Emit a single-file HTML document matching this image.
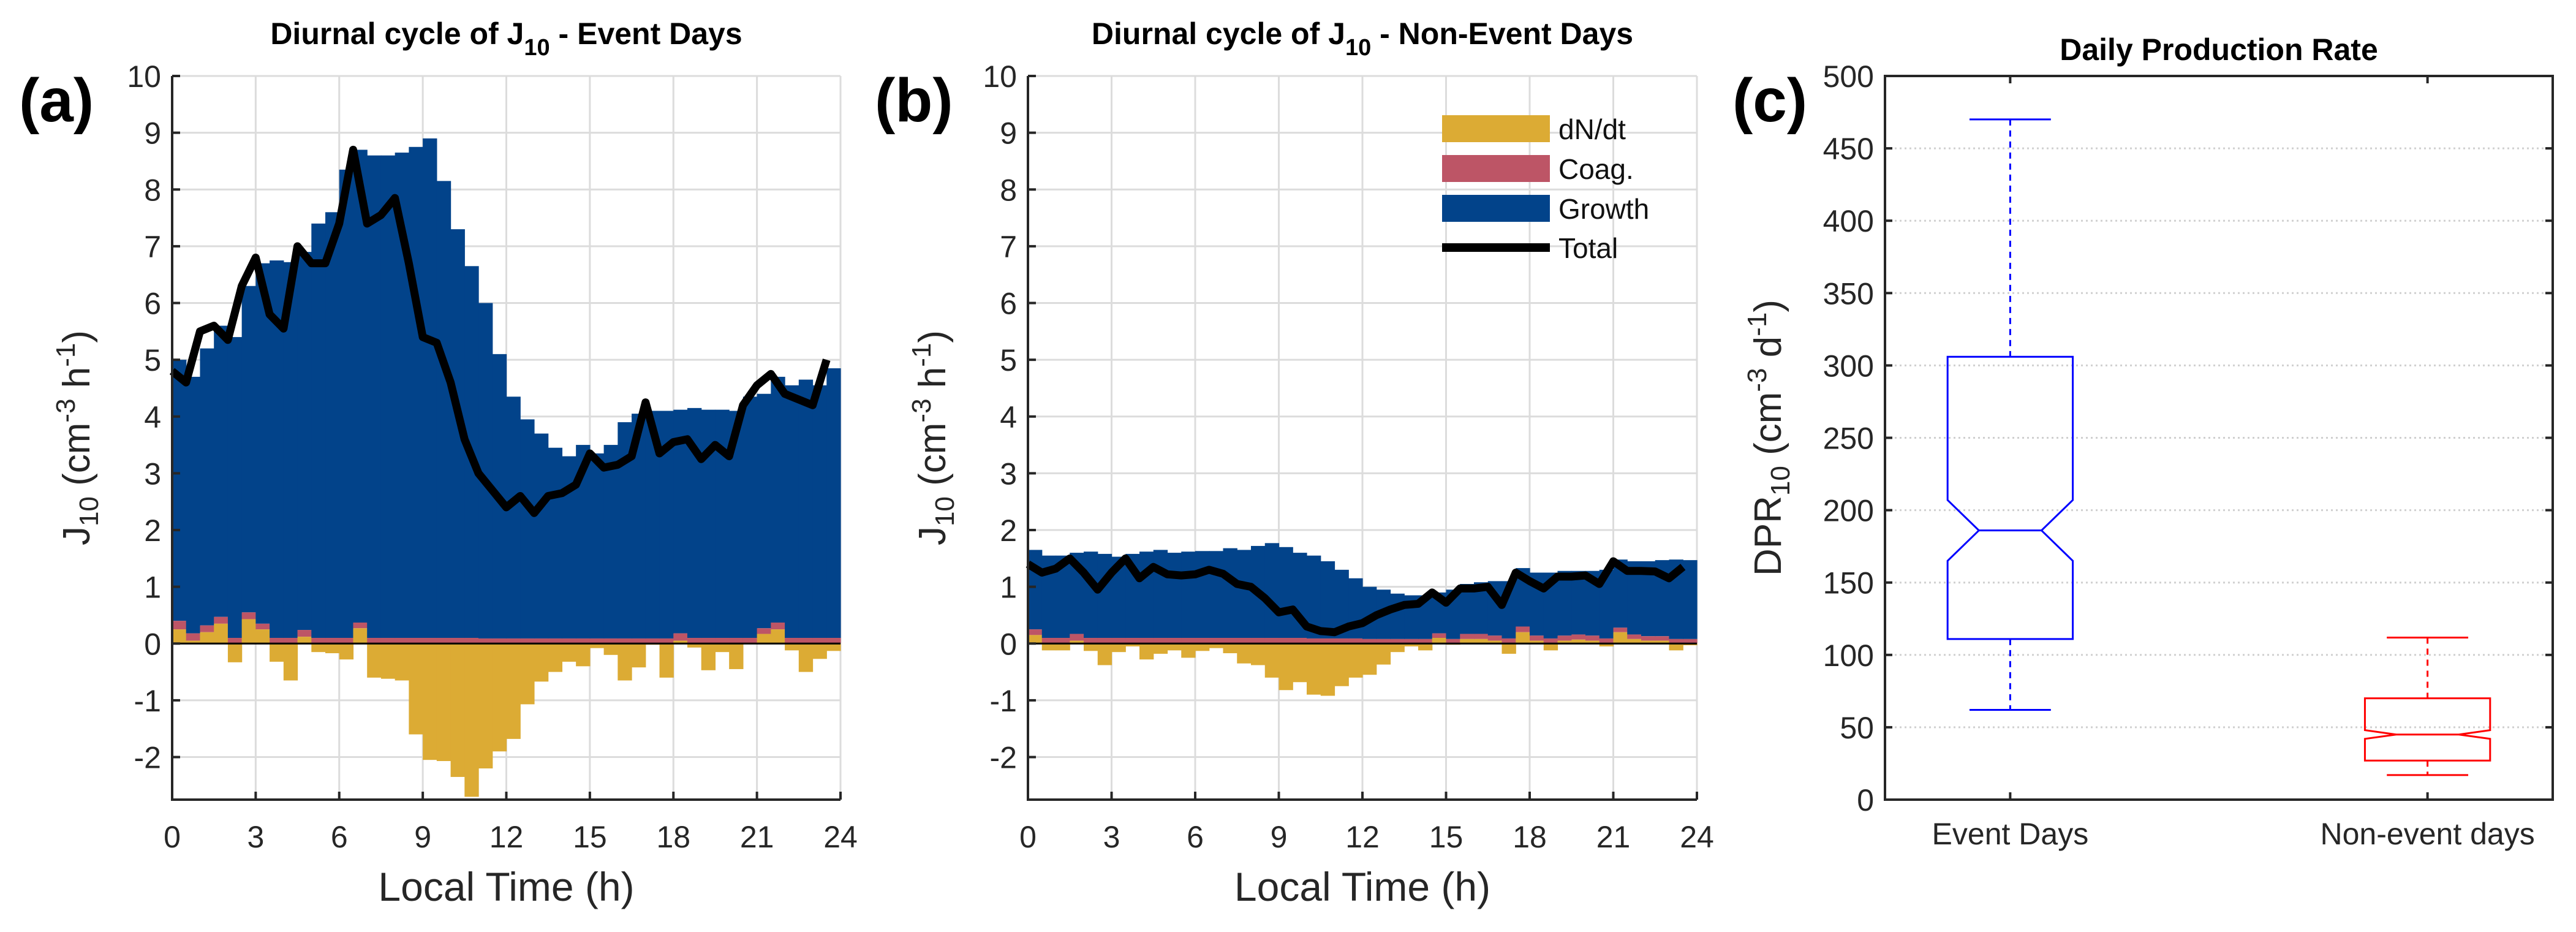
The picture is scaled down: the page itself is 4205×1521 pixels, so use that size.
<!DOCTYPE html>
<html><head><meta charset="utf-8">
<style>
html,body{margin:0;padding:0;background:#fff;}
svg{display:block;font-family:"Liberation Sans",Arial,sans-serif;}
</style></head>
<body>
<svg id="fig" width="4205" height="1521" viewBox="0 0 4205 1521" xmlns="http://www.w3.org/2000/svg"></svg>
<script>
// ---------- data ----------
const hours = [0,0.5,1,1.5,2,2.5,3,3.5,4,4.5,5,5.5,6,6.5,7,7.5,8,8.5,9,9.5,10,10.5,11,11.5,12,12.5,13,13.5,14,14.5,15,15.5,16,16.5,17,17.5,18,18.5,19,19.5,20,20.5,21,21.5,22,22.5,23,23.5];
const evTop = [5.0,4.7,5.2,5.6,5.4,6.3,6.7,6.75,6.72,6.9,7.4,7.6,8.35,8.7,8.6,8.6,8.65,8.75,8.9,8.15,7.3,6.65,6.0,5.1,4.35,3.95,3.7,3.45,3.3,3.5,3.35,3.5,3.9,4.05,4.1,4.1,4.12,4.15,4.12,4.12,4.1,4.35,4.4,4.7,4.55,4.65,4.55,4.85];
const evDndt = [0.25,0.05,0.2,0.35,-0.33,0.43,0.25,-0.32,-0.65,0.12,-0.15,-0.17,-0.28,0.27,-0.6,-0.62,-0.65,-1.6,-2.05,-2.07,-2.35,-2.7,-2.2,-1.9,-1.68,-1.07,-0.67,-0.5,-0.32,-0.4,-0.08,-0.2,-0.65,-0.42,-0.02,-0.6,0.05,-0.07,-0.47,-0.15,-0.45,0,0.17,0.25,-0.12,-0.5,-0.27,-0.13];
const evCoag = [0.15,0.13,0.12,0.12,0.1,0.12,0.1,0.1,0.1,0.12,0.1,0.1,0.1,0.1,0.1,0.1,0.1,0.1,0.1,0.1,0.1,0.1,0.09,0.09,0.09,0.09,0.09,0.09,0.09,0.09,0.09,0.09,0.09,0.09,0.09,0.09,0.13,0.1,0.1,0.1,0.1,0.1,0.1,0.12,0.1,0.1,0.1,0.1];
const evTotal = [4.8,4.6,5.5,5.6,5.35,6.3,6.8,5.8,5.55,7.0,6.7,6.7,7.4,8.7,7.4,7.55,7.85,6.7,5.4,5.3,4.6,3.6,3.0,2.7,2.4,2.6,2.3,2.6,2.65,2.8,3.35,3.1,3.15,3.3,4.25,3.35,3.55,3.6,3.25,3.5,3.3,4.2,4.55,4.75,4.4,4.3,4.2,5.0];

const neTop = [1.65,1.55,1.55,1.6,1.62,1.58,1.53,1.58,1.62,1.65,1.6,1.62,1.63,1.63,1.68,1.65,1.72,1.77,1.7,1.6,1.55,1.45,1.3,1.15,1.0,0.95,0.88,0.85,0.85,0.9,0.95,1.05,1.08,1.1,1.1,1.33,1.25,1.25,1.28,1.28,1.28,1.3,1.48,1.45,1.45,1.47,1.48,1.47];
const neDndt = [0.15,-0.12,-0.12,0.05,-0.13,-0.38,-0.15,-0.05,-0.28,-0.18,-0.12,-0.25,-0.13,-0.08,-0.17,-0.35,-0.38,-0.6,-0.82,-0.68,-0.9,-0.92,-0.75,-0.6,-0.55,-0.37,-0.15,-0.05,-0.12,0.1,-0.02,0.08,0.08,0.05,-0.18,0.2,0.05,-0.12,0.05,0.07,0.05,-0.05,0.2,0.08,0.05,0.05,-0.12,-0.03];
const neCoag = [0.1,0.1,0.1,0.12,0.1,0.1,0.1,0.1,0.1,0.1,0.1,0.1,0.1,0.1,0.1,0.1,0.1,0.1,0.1,0.1,0.09,0.09,0.09,0.09,0.08,0.08,0.08,0.08,0.08,0.08,0.08,0.09,0.09,0.09,0.09,0.1,0.09,0.09,0.09,0.09,0.09,0.09,0.08,0.08,0.08,0.08,0.08,0.08];
const neTotal = [1.4,1.25,1.32,1.5,1.25,0.95,1.25,1.5,1.15,1.35,1.22,1.2,1.22,1.3,1.23,1.05,1.0,0.8,0.55,0.6,0.3,0.22,0.2,0.3,0.36,0.5,0.6,0.68,0.7,0.9,0.72,0.97,0.97,1.0,0.68,1.25,1.1,0.97,1.18,1.18,1.2,1.05,1.45,1.28,1.28,1.27,1.15,1.35];

const xTicks = [0,3,6,9,12,15,18,21,24];
const yTicks = [-2,-1,0,1,2,3,4,5,6,7,8,9,10];

const boxCats = ["Event Days","Non-event days"];
const boxMax = [470,112];
const boxQ3 = [306,70];
const boxNotchHi = [207,48];
const boxMed = [186,45];
const boxNotchLo = [165,42];
const boxQ1 = [111,27];
const boxMin = [62,17];
const boxColors = ["#0000ff","#ff0000"];
const cTicks = [0,50,100,150,200,250,300,350,400,450,500];

// ---------- helpers ----------
const NS="http://www.w3.org/2000/svg";
const svg=document.getElementById('fig');
function mk(tag,attrs,parent){const e=document.createElementNS(NS,tag);for(const k in attrs)e.setAttribute(k,attrs[k]);(parent||svg).appendChild(e);return e;}
const BLUE="#02438a",YEL="#dcab34",PINK="#bd5566",GRID="#dcdcdc",AX="#262626";

function diurnal(px0,px1,top,dndt,coag,total,name,titleMain,titleRest,letter){
  const py0=124,py1=1305,ymin=-2.75,ymax=10;
  const xs=h=>px0+(h/24)*(px1-px0);
  const ys=v=>py1-(v-ymin)/(ymax-ymin)*(py1-py0);
  const g=mk('g',{});
  
  
  // grid
  xTicks.forEach(t=>{const l=mk('line',{x1:xs(t),x2:xs(t),y1:py0,y2:py1,stroke:GRID,'stroke-width':3},g);
    });
  yTicks.forEach(t=>{const l=mk('line',{x1:px0,x2:px1,y1:ys(t),y2:ys(t),stroke:GRID,'stroke-width':3},g);
    });
  const bw=xs(0.5)-xs(0);
  hours.forEach((h,i)=>{
    const x=xs(h);
    const d=dndt[i],c=coag[i];
    const pos=Math.max(d,0);
    // growth (blue) from pos+coag to top
    const gb=pos+c;
    const r1=mk('rect',{x:x,y:ys(top[i]),width:bw+0.6,height:Math.max(0,ys(gb)-ys(top[i])),fill:BLUE},g);
    
    const r2=mk('rect',{x:x,y:ys(gb),width:bw+0.6,height:ys(pos)-ys(gb),fill:PINK},g);
    
    const r3=mk('rect',{x:x,y:Math.min(ys(d),ys(0)),width:bw+0.6,height:Math.abs(ys(d)-ys(0)),fill:YEL},g);
    
  });
  const zl=mk('line',{x1:px0,x2:px1,y1:ys(0),y2:ys(0),stroke:'#000','stroke-width':3},g);
  
  const pts=hours.map((h,i)=>xs(h)+','+ys(total[i])).join(' ');
  const pl=mk('polyline',{points:pts,fill:'none',stroke:'#000','stroke-width':13,'stroke-linejoin':'round'},g);
  
  // axes
  const ax=mk('path',{d:`M${px0} ${py0} V${py1} H${px1}`,fill:'none',stroke:AX,'stroke-width':4},g);
  
  xTicks.forEach(t=>{
    mk('line',{x1:xs(t),x2:xs(t),y1:py1,y2:py1-13,stroke:AX,'stroke-width':4},g);
    const tx=mk('text',{x:xs(t),y:1383,'font-size':50,'text-anchor':'middle',fill:AX},g);tx.textContent=t;
    
  });
  yTicks.forEach(t=>{
    mk('line',{x1:px0,x2:px0+13,y1:ys(t),y2:ys(t),stroke:AX,'stroke-width':4},g);
    const tx=mk('text',{x:px0-18,y:ys(t)+18,'font-size':50,'text-anchor':'end',fill:AX},g);tx.textContent=t;
    
  });
  const xl=mk('text',{x:(px0+px1)/2,y:1470,'font-size':66,'text-anchor':'middle',fill:AX},g);xl.textContent='Local Time (h)';
  
  const yl=mk('text',{x:0,y:0,'font-size':62,'text-anchor':'middle',fill:AX,transform:`translate(${px0-135},${(py0+py1)/2}) rotate(-90)`},g);
  yl.innerHTML='J<tspan font-size="44" dy="14">10</tspan><tspan dy="-14"> (cm</tspan><tspan font-size="44" dy="-24">-3</tspan><tspan dy="24"> h</tspan><tspan font-size="44" dy="-24">-1</tspan><tspan dy="24">)</tspan>';
  
  const tt=mk('text',{x:(px0+px1)/2,y:72,'font-size':50,'font-weight':'bold','text-anchor':'middle',fill:'#000'},g);
  tt.innerHTML=`${titleMain}<tspan font-size="38" dy="18">10</tspan><tspan dy="-18">${titleRest}</tspan>`;
  
  const pl2=mk('text',{x:32,y:198,'font-size':100,'font-weight':'bold',fill:'#000'},g);
  pl2.setAttribute('x',px0-250);pl2.textContent=letter;
  
}
diurnal(281,1372,evTop,evDndt,evCoag,evTotal,'panel-a-event-days','Diurnal cycle of J',' - Event Days','(a)');
diurnal(1678,2770,neTop,neDndt,neCoag,neTotal,'panel-b-non-event-days','Diurnal cycle of J',' - Non-Event Days','(b)');

// legend
(function(){
  const g=mk('g',{});
  const items=[['dN/dt',YEL],['Coag.',PINK],['Growth',BLUE],['Total','#000']];
  const ysL=[210,275,340,404];
  items.forEach((it,i)=>{
    if(it[0]==='Total'){mk('rect',{x:2354,y:ysL[i]-7,width:176,height:14,fill:'#000'},g);}
    else mk('rect',{x:2354,y:ysL[i]-22,width:176,height:44,fill:it[1]},g);
    const t=mk('text',{x:2544,y:ysL[i]+17,'font-size':46,fill:'#111'},g);t.textContent=it[0];
    
  });
})();

// panel c
(function(){
  const px0=3077,px1=4167,py0=124,py1=1305;
  const xs=c=>px0+(c-0.7)/1.6*(px1-px0);
  const ys=v=>py1-v/500*(py1-py0);
  const g=mk('g',{});
  cTicks.forEach(t=>{
    if(t>0&&t<500){const l=mk('line',{x1:px0,x2:px1,y1:ys(t),y2:ys(t),stroke:'#d0d0d0','stroke-width':3,'stroke-dasharray':'3 5'},g);
      }
    mk('line',{x1:px0,x2:px0+12,y1:ys(t),y2:ys(t),stroke:AX,'stroke-width':4},g);
    mk('line',{x1:px1,x2:px1-12,y1:ys(t),y2:ys(t),stroke:AX,'stroke-width':4},g);
    const tx=mk('text',{x:px0-18,y:ys(t)+18,'font-size':50,'text-anchor':'end',fill:AX},g);tx.textContent=t;
    
  });
  const bw=0.15/1.6*(px1-px0);
  boxCats.forEach((c,i)=>{
    const cx=xs(i+1),col=boxColors[i];
    const bg=mk('g',{stroke:col,'stroke-width':3,fill:'none'},g);
    
    mk('line',{x1:cx,x2:cx,y1:ys(boxMax[i]),y2:ys(boxQ3[i]),'stroke-dasharray':'10 8'},bg);
    mk('line',{x1:cx,x2:cx,y1:ys(boxQ1[i]),y2:ys(boxMin[i]),'stroke-dasharray':'10 8'},bg);
    const cw=bw*0.65;
    mk('line',{x1:cx-cw,x2:cx+cw,y1:ys(boxMax[i]),y2:ys(boxMax[i])},bg);
    mk('line',{x1:cx-cw,x2:cx+cw,y1:ys(boxMin[i]),y2:ys(boxMin[i])},bg);
    const nw=bw*0.5;
    const d=`M${cx-bw} ${ys(boxQ1[i])} V${ys(boxNotchLo[i])} L${cx-nw} ${ys(boxMed[i])} L${cx-bw} ${ys(boxNotchHi[i])} V${ys(boxQ3[i])} H${cx+bw} V${ys(boxNotchHi[i])} L${cx+nw} ${ys(boxMed[i])} L${cx+bw} ${ys(boxNotchLo[i])} V${ys(boxQ1[i])} Z`;
    mk('path',{d:d},bg);
    mk('line',{x1:cx-nw,x2:cx+nw,y1:ys(boxMed[i]),y2:ys(boxMed[i])},bg);
    mk('line',{x1:cx,x2:cx,y1:py1,y2:py1-12,stroke:AX,'stroke-width':4},g);
    mk('line',{x1:cx,x2:cx,y1:py0,y2:py0+12,stroke:AX,'stroke-width':4},g);
    const tx=mk('text',{x:cx,y:1378,'font-size':50,'text-anchor':'middle',fill:AX},g);tx.textContent=c;
    
  });
  const fr=mk('rect',{x:px0,y:py0,width:px1-px0,height:py1-py0,fill:'none',stroke:AX,'stroke-width':4},g);
  
  const yl=mk('text',{x:0,y:0,'font-size':62,'text-anchor':'middle',fill:AX,transform:`translate(${px0-170},${(py0+py1)/2}) rotate(-90)`},g);
  yl.innerHTML='DPR<tspan font-size="44" dy="14">10</tspan><tspan dy="-14"> (cm</tspan><tspan font-size="44" dy="-24">-3</tspan><tspan dy="24"> d</tspan><tspan font-size="44" dy="-24">-1</tspan><tspan dy="24">)</tspan>';
  
  const tt=mk('text',{x:(px0+px1)/2,y:98,'font-size':50,'font-weight':'bold','text-anchor':'middle',fill:'#000'},g);tt.textContent='Daily Production Rate';
  
  const pl=mk('text',{x:2828,y:198,'font-size':100,'font-weight':'bold',fill:'#000'},g);pl.textContent='(c)';
  
})();
</script>
</body></html>
